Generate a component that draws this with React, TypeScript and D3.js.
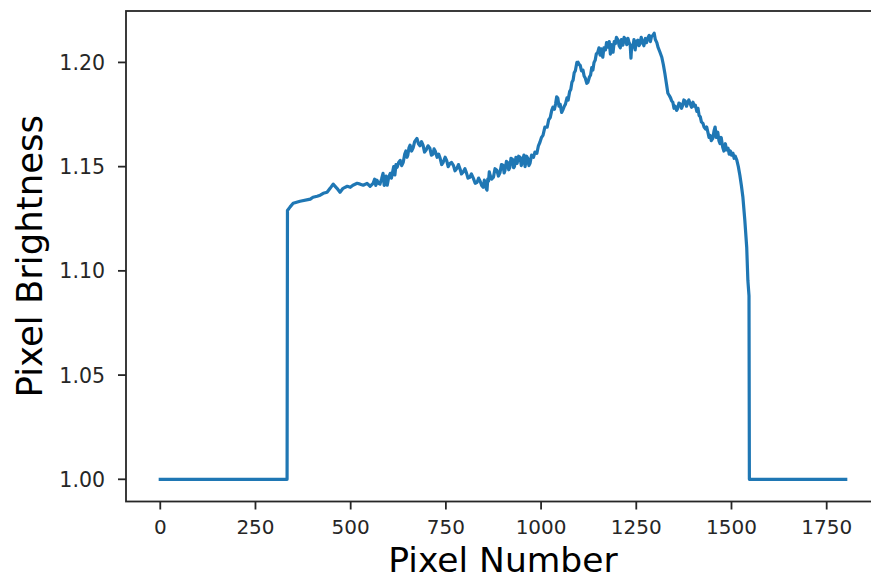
import React from "react";
import * as d3 from "d3";

const pixelNumbers = [
  0, 333, 334, 341, 349, 367, 394, 401, 412, 420,
  428, 438, 446, 454, 464, 472, 480, 491, 499, 506,
  517, 525, 533, 543, 551, 559, 563, 566, 569, 573,
  577, 581, 585, 588, 590, 593, 596, 600, 604, 607,
  611, 613, 616, 619, 622, 626, 630, 634, 638, 642,
  645, 648, 650, 653, 656, 660, 664, 668, 674, 678,
  682, 686, 690, 694, 698, 703, 708, 712, 716, 719,
  722, 727, 731, 735, 739, 743, 748, 752, 756, 761,
  765, 770, 774, 779, 783, 787, 791, 795, 800, 804,
  808, 813, 817, 822, 827, 832, 836, 840, 844, 848,
  851, 853, 856, 858, 860, 862, 864, 866, 870, 875,
  879, 884, 888, 892, 896, 900, 903, 905, 909, 912,
  915, 918, 921, 925, 928, 930, 934, 937, 941, 945,
  948, 952, 955, 958, 962, 965, 968, 971, 975, 980,
  984, 989, 993, 997, 1001, 1005, 1010, 1016, 1020, 1024,
  1028, 1031, 1035, 1038, 1041, 1044, 1047, 1050, 1054, 1057,
  1061, 1064, 1068, 1071, 1075, 1078, 1081, 1084, 1087, 1090,
  1094, 1097, 1100, 1103, 1106, 1110, 1113, 1116, 1120, 1123,
  1127, 1130, 1133, 1136, 1139, 1142, 1145, 1149, 1152, 1155,
  1158, 1162, 1165, 1169, 1172, 1176, 1179, 1182, 1186, 1189,
  1192, 1195, 1198, 1202, 1205, 1208, 1211, 1215, 1218, 1222,
  1225, 1228, 1231, 1234, 1236, 1238, 1241, 1244, 1247, 1250,
  1254, 1257, 1260, 1263, 1267, 1270, 1274, 1277, 1280, 1284,
  1287, 1290, 1294, 1297, 1300, 1304, 1307, 1312, 1317, 1321,
  1325, 1329, 1333, 1337, 1340, 1343, 1346, 1349, 1352, 1356,
  1359, 1362, 1366, 1369, 1372, 1375, 1378, 1382, 1385, 1388,
  1392, 1395, 1399, 1402, 1405, 1409, 1412, 1415, 1418, 1421,
  1425, 1428, 1432, 1435, 1438, 1441, 1444, 1447, 1451, 1454,
  1457, 1460, 1464, 1467, 1470, 1473, 1477, 1480, 1484, 1487,
  1491, 1494, 1497, 1500, 1504, 1507, 1510, 1514, 1518, 1522,
  1526, 1530, 1535, 1540, 1543, 1546, 1547, 1800,
];

const brightness = [
  1.0, 1.0, 1.129, 1.1307, 1.1324, 1.1334, 1.1344, 1.1353, 1.1358, 1.1363,
  1.1372, 1.1377, 1.1396, 1.1416, 1.1396, 1.1377, 1.1396, 1.1406, 1.1401, 1.1411,
  1.142, 1.1416, 1.1411, 1.142, 1.1406, 1.142, 1.144, 1.141, 1.1435, 1.142,
  1.1416, 1.144, 1.1468, 1.141, 1.143, 1.1455, 1.1411, 1.145, 1.1468, 1.1445,
  1.1483, 1.15, 1.146, 1.151, 1.1497, 1.152, 1.153, 1.1505, 1.1521, 1.156,
  1.1575, 1.1545, 1.1555, 1.159, 1.1603, 1.1575, 1.159, 1.162, 1.1635, 1.161,
  1.16, 1.162, 1.1603, 1.157, 1.158, 1.16, 1.1588, 1.1555, 1.156, 1.1585,
  1.1575, 1.1545, 1.156, 1.154, 1.151, 1.1521, 1.1545, 1.153, 1.15, 1.1516,
  1.152, 1.1505, 1.148, 1.1492, 1.151, 1.149, 1.1465, 1.1473, 1.149, 1.147,
  1.1445, 1.1449, 1.1465, 1.1445, 1.142, 1.1425, 1.1445, 1.143, 1.141, 1.1401,
  1.1435, 1.142, 1.1395, 1.1387, 1.144, 1.143, 1.1475, 1.1459, 1.144, 1.145,
  1.149, 1.1483, 1.1455, 1.147, 1.151, 1.1507, 1.147, 1.148, 1.1525, 1.152,
  1.1485, 1.1497, 1.154, 1.1535, 1.1495, 1.15, 1.1545, 1.1516, 1.155, 1.1545,
  1.1505, 1.1531, 1.1555, 1.15, 1.155, 1.154, 1.1505, 1.1516, 1.1555, 1.1545,
  1.157, 1.1564, 1.16, 1.1617, 1.164, 1.165, 1.169, 1.1689, 1.1725, 1.1735,
  1.177, 1.1785, 1.1775, 1.18, 1.1835, 1.1828, 1.179, 1.18, 1.176, 1.1771,
  1.179, 1.18, 1.183, 1.1819, 1.186, 1.187, 1.1905, 1.1915, 1.195, 1.196,
  1.2, 1.2001, 1.199, 1.1985, 1.196, 1.1963, 1.1935, 1.1925, 1.19, 1.1905,
  1.193, 1.194, 1.1975, 1.1963, 1.2, 1.201, 1.204, 1.2049, 1.207, 1.2035,
  1.2065, 1.2025, 1.207, 1.206, 1.2095, 1.2073, 1.21, 1.204, 1.2085, 1.2049,
  1.21, 1.209, 1.212, 1.2107, 1.208, 1.207, 1.211, 1.2083, 1.212, 1.211,
  1.2085, 1.2116, 1.2095, 1.2085, 1.202, 1.208, 1.2073, 1.211, 1.206, 1.21,
  1.2107, 1.208, 1.209, 1.212, 1.2097, 1.208, 1.2115, 1.2095, 1.2116, 1.213,
  1.21, 1.2125, 1.2131, 1.214, 1.211, 1.2095, 1.2073, 1.205, 1.2025, 1.199,
  1.1948, 1.19, 1.1852, 1.184, 1.183, 1.1815, 1.1809, 1.178, 1.179, 1.177,
  1.178, 1.1805, 1.18, 1.178, 1.1795, 1.182, 1.1815, 1.179, 1.1809, 1.182,
  1.18, 1.1785, 1.1809, 1.179, 1.1795, 1.1765, 1.178, 1.1745, 1.174, 1.1715,
  1.1708, 1.169, 1.168, 1.169, 1.1665, 1.164, 1.165, 1.1625, 1.1636, 1.167,
  1.169, 1.164, 1.1665, 1.1625, 1.161, 1.164, 1.1593, 1.1575, 1.161, 1.158,
  1.1588, 1.156, 1.1575, 1.1555, 1.1564, 1.154, 1.155, 1.1531, 1.15, 1.1459,
  1.141, 1.1353, 1.1243, 1.1113, 1.0955, 1.088, 1.0, 1.0,
];

const xTicks = [0, 250, 500, 750, 1000, 1250, 1500, 1750];
const yTicks = [1.0, 1.05, 1.1, 1.15, 1.2];

const xLabel = "Pixel Number";
const yLabel = "Pixel Brightness";

export default function App() {
  const W = 871;
  const H = 581;
  const left = 126;
  const right = 880;
  const top = 11;
  const bottom = 501.5;

  const x = d3.scaleLinear().domain([-90, 1890]).range([left, right]);
  const y = d3.scaleLinear().domain([0.98935, 1.22467]).range([bottom, top]);

  const pts: [number, number][] = pixelNumbers.map((p, i) => [p, brightness[i]]);
  const line = d3
    .line<[number, number]>()
    .x((d) => x(d[0]))
    .y((d) => y(d[1]));

  const font = "DejaVu Sans, Verdana, sans-serif";
  const axisColor = "#262626";

  return (
    <svg
      width={W}
      height={H}
      style={{ position: "absolute", left: 0, top: 0, background: "#fff" }}
    >
      <rect x={0} y={0} width={W} height={H} fill="#fff" />
      <path
        d={line(pts) || ""}
        fill="none"
        stroke="#1f77b4"
        strokeWidth={3.2}
        strokeLinejoin="round"
        strokeLinecap="square"
      />
      <rect
        x={left}
        y={top}
        width={right - left}
        height={bottom - top}
        fill="none"
        stroke={axisColor}
        strokeWidth={1.8}
      />
      {xTicks.map((t) => (
        <g key={"x" + t}>
          <line x1={x(t)} x2={x(t)} y1={bottom} y2={bottom + 8} stroke={axisColor} strokeWidth={1.8} />
          <text
            x={x(t)}
            y={534}
            textAnchor="middle"
            fontFamily={font}
            fontSize={20}
            fill="#262626"
          >
            {t}
          </text>
        </g>
      ))}
      {yTicks.map((t) => (
        <g key={"y" + t}>
          <line x1={left - 8} x2={left} y1={y(t)} y2={y(t)} stroke={axisColor} strokeWidth={1.8} />
          <text
            x={105}
            y={y(t) + 7.5}
            textAnchor="end"
            fontFamily={font}
            fontSize={20.5}
            fill="#262626"
          >
            {d3.format(".2f")(t)}
          </text>
        </g>
      ))}
      <text
        x={(left + right) / 2}
        y={572}
        textAnchor="middle"
        fontFamily={font}
        fontSize={34.5}
        fill="#000"
      >
        {xLabel}
      </text>
      <text
        transform={`translate(42, ${(top + bottom) / 2}) rotate(-90)`}
        textAnchor="middle"
        fontFamily={font}
        fontSize={35.5}
        fill="#000"
      >
        {yLabel}
      </text>
    </svg>
  );
}
